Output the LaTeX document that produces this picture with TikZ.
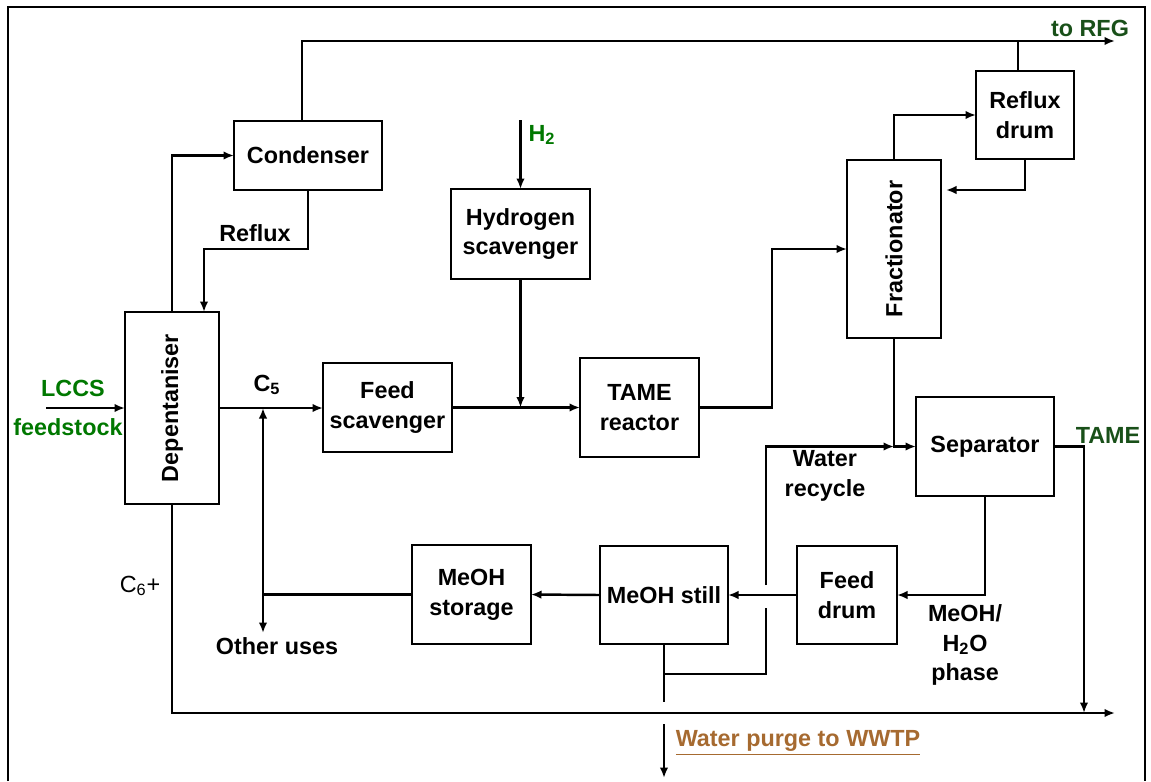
\documentclass[tikz,border=0pt]{standalone}
\usepackage{fontspec}
\setmainfont{Liberation Sans}
\usepackage{tikz}
\usetikzlibrary{arrows.meta}

\definecolor{feedgreen}{RGB}{0,120,0}
\definecolor{outgreen}{RGB}{25,80,25}
\definecolor{purgebrown}{RGB}{166,106,48}

\begin{document}
\begin{tikzpicture}[x=0.02cm, y=-0.02cm,
        font=\fontsize{13.3}{17}\selectfont\bfseries,
        unit/.style={draw, line width=1.1pt, inner sep=0pt, outer sep=0pt, align=center},
        pipe/.style={line width=1.4pt},
        flow/.style={pipe, -{Latex[length=0.21cm, width=0.17cm]}},
        label/.style={align=center}]
    \useasboundingbox (0,0) rectangle (1151,781);
    % frame
    \draw[line width=1.4pt] (8,781) -- (8,7) -- (1145,7) -- (1145,781);

    % units
    \node[unit, minimum width=2.96cm, minimum height=1.38cm] (cond) at (308,155.5) {Condenser};
    \node[unit, minimum width=1.88cm, minimum height=3.84cm] (dep) at (172,408) {\rotatebox{90}{Depentaniser}};
    \node[unit, minimum width=2.58cm, minimum height=1.78cm] (feedscav) at (387.5,407.5) {Feed\\scavenger};
    \node[unit, minimum width=2.78cm, minimum height=1.80cm] (hscav) at (520.5,234) {\raisebox{-3pt}{\begin{tabular}{@{}c@{}}Hydrogen\\scavenger\end{tabular}}};
    \node[unit, minimum width=2.38cm, minimum height=1.98cm] (reactor) at (639.5,407.5) {TAME\\reactor};
    \node[unit, minimum width=1.88cm, minimum height=3.56cm] (frac) at (894,249) {\rotatebox{90}{Fractionator}};
    \node[unit, minimum width=1.96cm, minimum height=1.76cm] (rdrum) at (1025,115) {Reflux\\drum};
    \node[unit, minimum width=2.76cm, minimum height=1.98cm] (sep) at (985,446.5) {Separator};
    \node[unit, minimum width=2.00cm, minimum height=1.96cm] (fdrum) at (847,595) {Feed\\drum};
    \node[unit, minimum width=2.56cm, minimum height=1.96cm] (still) at (664,595) {MeOH still};
    \node[unit, minimum width=2.38cm, minimum height=1.98cm] (storage) at (471.5,594.5) {MeOH\\storage};

    % bend points and free ends
    \coordinate (topL) at (302,41);
    \coordinate (rfg) at (1115,41);
    \coordinate (rdtap) at (1018,41);
    \coordinate (rfx) at (204,249);
    \coordinate (feedin) at (46,408);
    \coordinate (c5) at (263,408);
    \coordinate (other) at (263,633);
    \coordinate (h2in) at (520.5,120);
    \coordinate (rx) at (772,249);
    \coordinate (rdret) at (1025,190);
    \coordinate (wr) at (766,674);
    \coordinate (hopLo) at (766,608);
    \coordinate (hopHi) at (766,585);
    \coordinate (purgeT) at (664,702);
    \coordinate (purge) at (664,724);
    \coordinate (purgeEnd) at (664,778);
    \coordinate (tame) at (1084,446.5);
    \coordinate (prod) at (1115,713);

    % overhead
    \draw[flow] (dep.north) |- (cond.west);
    \draw[flow] (cond.south) |- (rfx) -- (rfx |- dep.north);
    \draw[flow] (topL |- cond.north) -- (topL) -- (rfg);
    \draw[line width=0.8pt] (rdtap) -- (rdtap |- rdrum.north);

    % feed and C5 line
    \draw[flow] (feedin) -- (feedin -| dep.west);
    \draw[flow] (dep.east) -- (dep.east -| feedscav.west);
    \draw[pipe, {Latex[length=0.21cm, width=0.17cm]}-{Latex[length=0.21cm, width=0.17cm]}] (c5) -- (other);
    \draw[pipe] (c5 |- storage.west) -- (storage.west);
    \draw[flow] (feedscav.east) -- (feedscav.east -| reactor.west);
    \draw[flow] (h2in) -- (hscav.north);
    \draw[flow] (hscav.south) -- (hscav.south |- feedscav.east);

    % reactor to fractionator
    \draw[flow] (reactor.east) -| (rx) -- (rx -| frac.west);
    \draw[flow] (frac.north) |- (rdrum.west);
    \draw[flow, shorten >=0.1cm] (rdrum.south) -- (rdret) -- (rdret -| frac.east);
    \draw[flow] (frac.south) |- (sep.west);

    % methanol recovery
    \draw[flow] (sep.south) |- (fdrum.east);
    \draw[flow] (fdrum.west) -- (still.east);
    \draw[flow] (still.west) -- (storage.east);
    \draw[pipe] (still.south) -- (purgeT);
    \draw[pipe] (still.south |- wr) -- (wr) -- (hopLo);
    \draw[flow] (hopHi) -- (hopHi |- sep.west) -- (frac.south |- sep.west);
    \draw[flow] (purge) -- (purgeEnd);

    % products
    \draw[flow] (sep.east) -- (tame) -- (tame |- prod);
    \draw[flow] (dep.south) |- (prod);

    % labels
    \node[text=outgreen] (rfglbl) at (1090,28) {to RFG};
    \node (refluxlbl) at (255,233) {Reflux};
    \node[text=feedgreen] (h2lbl) at (542,135) {H\textsubscript{2}};
    \node[text=feedgreen] (lccslbl) at (73,388) {LCCS};
    \node[text=feedgreen] (feedlbl) at (68,427) {feedstock};
    \node (c5lbl) at (267,385) {C\textsubscript{5}};
    \node[font=\fontsize{13.3}{17}\selectfont] (c6lbl) at (140,586) {C\textsubscript{6}+};
    \node (otherlbl) at (277,646) {Other uses};
    \node[text=outgreen] (tamelbl) at (1108,435) {TAME};
    \node[label] (wrlbl) at (825,476) {Water\\recycle};
    \node[label] (phaselbl) at (965,645) {MeOH/\\H\textsubscript{2}O\\phase};
    \node[text=purgebrown] (purgelbl) at (798,743) {\underline{Water purge to WWTP}};
\end{tikzpicture}
\end{document}
